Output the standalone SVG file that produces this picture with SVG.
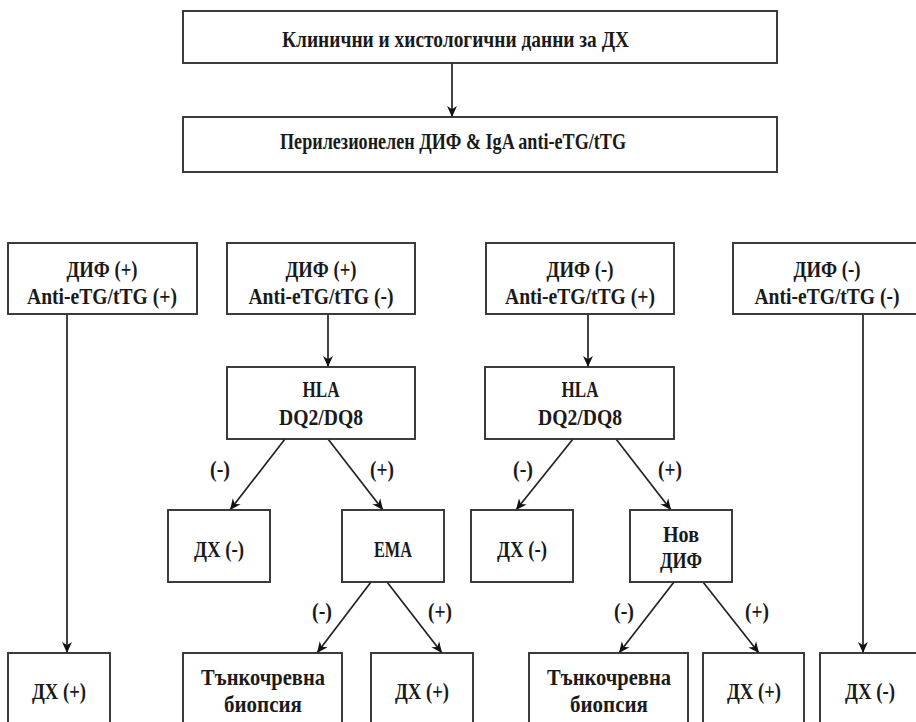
<svg xmlns="http://www.w3.org/2000/svg" width="916" height="722" viewBox="0 0 916 722">
<defs>
<style>
.b{fill:#fff;stroke:#333;stroke-width:1.9}
.t{font-family:"Liberation Serif","DejaVu Serif",serif;font-weight:bold;fill:#1a1a1a;text-anchor:middle;font-size:23px}
.c line{stroke:#222;stroke-width:1.7;marker-end:url(#a)}
</style>
<marker id="a" viewBox="0 0 10 10" refX="10" refY="5" markerWidth="11" markerHeight="11" markerUnits="userSpaceOnUse" orient="auto">
<path d="M0,0.5 L10,5 L0,9.5 L3,5 z" fill="#111"/>
</marker>
</defs>
<rect width="916" height="722" fill="#fff"/>
<g class="c">
<line x1="452" y1="63" x2="452" y2="117"/>
<line x1="67" y1="314" x2="67" y2="653"/>
<line x1="328" y1="314" x2="328" y2="367"/>
<line x1="588" y1="314" x2="588" y2="367"/>
<line x1="863" y1="314" x2="863" y2="653"/>
<line x1="285" y1="439" x2="230" y2="510"/>
<line x1="328" y1="439" x2="383" y2="510"/>
<line x1="371" y1="582" x2="317" y2="653"/>
<line x1="387" y1="582" x2="442" y2="653"/>
<line x1="573" y1="439" x2="516" y2="510"/>
<line x1="616" y1="439" x2="671" y2="510"/>
<line x1="674" y1="582" x2="619" y2="653"/>
<line x1="703" y1="582" x2="759" y2="653"/>
</g>
<g id="labels" class="t">
<text x="220" y="477" textLength="20" lengthAdjust="spacingAndGlyphs">(-)</text>
<text x="382" y="477" textLength="24" lengthAdjust="spacingAndGlyphs">(+)</text>
<text x="322" y="619" textLength="20" lengthAdjust="spacingAndGlyphs">(-)</text>
<text x="440" y="619" textLength="24" lengthAdjust="spacingAndGlyphs">(+)</text>
<text x="523" y="477" textLength="20" lengthAdjust="spacingAndGlyphs">(-)</text>
<text x="670" y="477" textLength="24" lengthAdjust="spacingAndGlyphs">(+)</text>
<text x="624" y="619" textLength="20" lengthAdjust="spacingAndGlyphs">(-)</text>
<text x="757" y="619" textLength="24" lengthAdjust="spacingAndGlyphs">(+)</text>
</g>
<g id="n1"><rect class="b" x="183" y="11" width="594" height="52"/><text class="t" x="455.5" y="47" textLength="347" lengthAdjust="spacingAndGlyphs">Клинични и хистологични данни за ДХ</text></g>
<g id="n2"><rect class="b" x="183" y="117" width="594" height="55"/><text class="t" x="453" y="149" textLength="346" lengthAdjust="spacingAndGlyphs">Перилезионелен ДИФ &amp; IgA anti-eTG/tTG</text></g>
<g id="n3"><rect class="b" x="8" y="243" width="189" height="71"/><text class="t" x="102" y="277" textLength="71" lengthAdjust="spacingAndGlyphs">ДИФ (+)</text><text class="t" x="102" y="304" textLength="150" lengthAdjust="spacingAndGlyphs">Anti-eTG/tTG (+)</text></g>
<g id="n4"><rect class="b" x="227" y="243" width="188" height="71"/><text class="t" x="321" y="277" textLength="71" lengthAdjust="spacingAndGlyphs">ДИФ (+)</text><text class="t" x="321" y="304" textLength="145" lengthAdjust="spacingAndGlyphs">Anti-eTG/tTG (-)</text></g>
<g id="n5"><rect class="b" x="486" y="243" width="188" height="71"/><text class="t" x="580" y="277" textLength="67" lengthAdjust="spacingAndGlyphs">ДИФ (-)</text><text class="t" x="580" y="304" textLength="150" lengthAdjust="spacingAndGlyphs">Anti-eTG/tTG (+)</text></g>
<g id="n6"><rect class="b" x="733" y="243" width="190" height="71"/><text class="t" x="827" y="277" textLength="67" lengthAdjust="spacingAndGlyphs">ДИФ (-)</text><text class="t" x="827" y="304" textLength="145" lengthAdjust="spacingAndGlyphs">Anti-eTG/tTG (-)</text></g>
<g id="n7"><rect class="b" x="227" y="367" width="188" height="72"/><text class="t" x="321" y="397" textLength="37" lengthAdjust="spacingAndGlyphs">HLA</text><text class="t" x="321" y="425" textLength="84" lengthAdjust="spacingAndGlyphs">DQ2/DQ8</text></g>
<g id="n8"><rect class="b" x="485" y="367" width="189" height="72"/><text class="t" x="580" y="397" textLength="37" lengthAdjust="spacingAndGlyphs">HLA</text><text class="t" x="580" y="425" textLength="84" lengthAdjust="spacingAndGlyphs">DQ2/DQ8</text></g>
<g id="n9"><rect class="b" x="168" y="510" width="102" height="72"/><text class="t" x="219" y="557" textLength="50" lengthAdjust="spacingAndGlyphs">ДХ (-)</text></g>
<g id="n10"><rect class="b" x="342" y="510" width="102" height="72"/><text class="t" x="393" y="557" textLength="38" lengthAdjust="spacingAndGlyphs">EMA</text></g>
<g id="n11"><rect class="b" x="471" y="510" width="102" height="72"/><text class="t" x="522" y="557" textLength="50" lengthAdjust="spacingAndGlyphs">ДХ (-)</text></g>
<g id="n12"><rect class="b" x="630" y="510" width="102" height="72"/><text class="t" x="681" y="542" textLength="36" lengthAdjust="spacingAndGlyphs">Нов</text><text class="t" x="681" y="568" textLength="42" lengthAdjust="spacingAndGlyphs">ДИФ</text></g>
<g id="n13"><rect class="b" x="8" y="653" width="102" height="80"/><text class="t" x="59" y="699" textLength="54" lengthAdjust="spacingAndGlyphs">ДХ (+)</text></g>
<g id="n14"><rect class="b" x="183" y="653" width="159" height="80"/><text class="t" x="263" y="685" textLength="124" lengthAdjust="spacingAndGlyphs">Тънкочревна</text><text class="t" x="263" y="712" textLength="78" lengthAdjust="spacingAndGlyphs">биопсия</text></g>
<g id="n15"><rect class="b" x="371" y="653" width="102" height="80"/><text class="t" x="422" y="699" textLength="54" lengthAdjust="spacingAndGlyphs">ДХ (+)</text></g>
<g id="n16"><rect class="b" x="529" y="653" width="159" height="80"/><text class="t" x="609" y="685" textLength="124" lengthAdjust="spacingAndGlyphs">Тънкочревна</text><text class="t" x="609" y="712" textLength="78" lengthAdjust="spacingAndGlyphs">биопсия</text></g>
<g id="n17"><rect class="b" x="703" y="653" width="101" height="80"/><text class="t" x="754" y="699" textLength="54" lengthAdjust="spacingAndGlyphs">ДХ (+)</text></g>
<g id="n18"><rect class="b" x="820" y="653" width="110" height="80"/><text class="t" x="870" y="699" textLength="50" lengthAdjust="spacingAndGlyphs">ДХ (-)</text></g>
</svg>
